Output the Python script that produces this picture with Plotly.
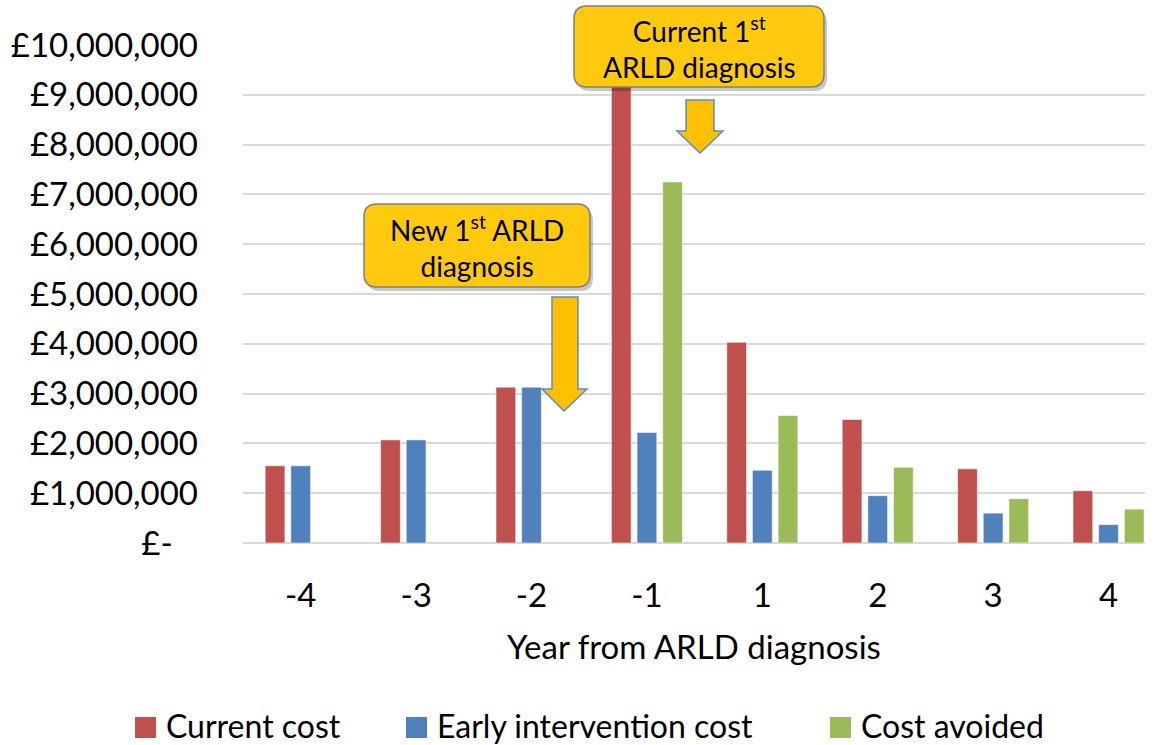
import plotly.graph_objects as go

# ---- data -------------------------------------------------------------
years = ["-4", "-3", "-2", "-1", "1", "2", "3", "4"]
current_cost = [1_550_000, 2_070_000, 3_130_000, 9_470_000, 4_030_000, 2_480_000, 1_490_000, 1_050_000]
early_cost = [1_550_000, 2_070_000, 3_130_000, 2_220_000, 1_460_000, 950_000, 600_000, 370_000]
cost_avoided = [None, None, None, 7_250_000, 2_560_000, 1_520_000, 890_000, 680_000]

series_names = ["Current cost", "Early intervention cost", "Cost avoided"]
series_colors = ["#C0504D", "#4F81BD", "#9BBB59"]

y_tickvals = [i * 1_000_000 for i in range(11)]
y_ticktext = ["£-\u00a0\u00a0\u00a0"] + [f"£{v:,}" for v in y_tickvals[1:]]

callout_current = "Current 1<sup>st</sup><br>ARLD diagnosis"
callout_new = "New 1<sup>st</sup> ARLD<br>diagnosis"

# ---- page geometry ----------------------------------------------------
W, H = 1155, 745
ML, MR, MT, MB = 243, 10, 45, 202
PW, PH = W - ML - MR, H - MT - MB
FONT = "Lato"


def px(x):
    return (x - ML) / PW


def py(y):
    return (H - MB - y) / PH


def rounded_rect(x0, y0, x1, y1, r):
    pts = [
        f"M{px(x0 + r)},{py(y0)}",
        f"L{px(x1 - r)},{py(y0)}",
        f"Q{px(x1)},{py(y0)} {px(x1)},{py(y0 + r)}",
        f"L{px(x1)},{py(y1 - r)}",
        f"Q{px(x1)},{py(y1)} {px(x1 - r)},{py(y1)}",
        f"L{px(x0 + r)},{py(y1)}",
        f"Q{px(x0)},{py(y1)} {px(x0)},{py(y1 - r)}",
        f"L{px(x0)},{py(y0 + r)}",
        f"Q{px(x0)},{py(y0)} {px(x0 + r)},{py(y0)}",
        "Z",
    ]
    return " ".join(pts)


def down_arrow(sx0, sx1, top, hx0, hx1, head_y, tip_x, tip_y):
    pts = [
        (sx0, top), (sx1, top), (sx1, head_y), (hx1, head_y),
        (tip_x, tip_y), (hx0, head_y), (sx0, head_y),
    ]
    return "M" + " L".join(f"{px(a)},{py(b)}" for a, b in pts) + " Z"


# ---- figure -----------------------------------------------------------
fig = go.Figure()
for name, vals, col in zip(series_names, [current_cost, early_cost, cost_avoided], series_colors):
    fig.add_trace(go.Bar(
        x=years, y=vals, name=name,
        marker=dict(color=col, line=dict(color="rgba(255,255,255,0.55)", width=1)),
        showlegend=False,
    ))

shapes = []
annotations = []

# callout boxes with a soft drop shadow
for (x0, y0, x1, y1), text in [((574, 6, 824, 87), callout_current),
                               ((364, 204, 590, 287), callout_new)]:
    shapes.append(dict(type="path", xref="paper", yref="paper",
                       path=rounded_rect(x0 + 3, y0 + 4, x1 + 3, y1 + 4, 13),
                       fillcolor="rgba(0,0,0,0.22)", line=dict(width=0)))
    shapes.append(dict(type="path", xref="paper", yref="paper",
                       path=rounded_rect(x0, y0, x1, y1, 13),
                       fillcolor="#FFC90E", line=dict(color="#7F7F7F", width=1.5)))
    annotations.append(dict(xref="paper", yref="paper",
                            x=px((x0 + x1) / 2), y=py((y0 + y1) / 2 + 1),
                            xanchor="center", yanchor="middle", showarrow=False,
                            text=text, font=dict(family=FONT, size=28, color="#000000")))

# block arrows pointing at the diagnosis years
for args in [(686, 714, 100, 677, 723, 131, 700, 153),
             (552, 578, 297, 542, 587, 389, 564, 411)]:
    shapes.append(dict(type="path", xref="paper", yref="paper",
                       path=down_arrow(*args),
                       fillcolor="#FFC000", line=dict(color="#5B8BC9", width=1.5)))

# legend row
legend_left = [135, 406, 830]
for name, col, lx in zip(series_names, series_colors, legend_left):
    shapes.append(dict(type="rect", xref="paper", yref="paper",
                       x0=px(lx), x1=px(lx + 21), y0=py(717), y1=py(738),
                       fillcolor=col, line=dict(width=0)))
    annotations.append(dict(xref="paper", yref="paper", x=px(lx + 29), y=py(725),
                            xanchor="left", yanchor="middle", showarrow=False,
                            text=name, font=dict(family=FONT, size=32, color="#000000")))

fig.update_layout(
    width=W, height=H,
    margin=dict(l=ML, r=MR, t=MT, b=MB),
    paper_bgcolor="white", plot_bgcolor="white",
    barmode="group", bargap=0.333, bargroupgap=0.23,
    font=dict(family=FONT, size=33, color="#000000"),
    shapes=shapes, annotations=annotations,
    xaxis=dict(
        type="category", range=[-0.5, 7.316],
        showgrid=False, showline=False, zeroline=False, ticks="",
        ticklabelstandoff=30,
        tickfont=dict(family=FONT, size=33),
        title=dict(text="Year from ARLD diagnosis", standoff=22,
                   font=dict(family=FONT, size=33)),
    ),
    yaxis=dict(
        range=[0, 10_000_000], tickvals=y_tickvals, ticktext=y_ticktext,
        showgrid=True, gridcolor="#D9D9D9", gridwidth=1.5,
        zeroline=True, zerolinecolor="#D9D9D9", zerolinewidth=1.5,
        showline=False, ticks="", ticklabelstandoff=44,
        tickfont=dict(family=FONT, size=33),
    ),
)

fig.write_html("out.html")
